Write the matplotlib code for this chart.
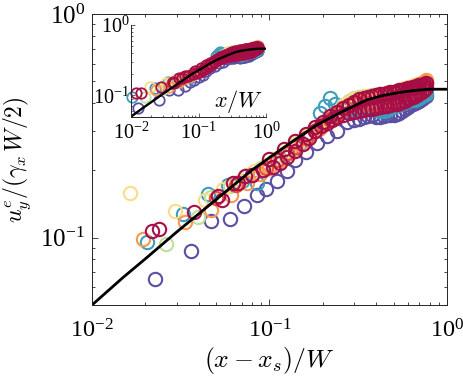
import numpy as np
import matplotlib
matplotlib.use('Agg')
import matplotlib.pyplot as plt
from matplotlib.ticker import LogLocator, NullFormatter

plt.rcParams['font.family'] = ['Liberation Serif', 'DejaVu Serif']
plt.rcParams['mathtext.fontset'] = 'cm'

# -------------------------------------------------------------------------
# data, x = (x - x_s)/W , y = u_y^e / (gamma_x W/2)
# every run: first part (x < 0.3) + tail at the common x positions tail_x

tail_x = [0.30, 0.32, 0.34, 0.36, 0.38, 0.40, 0.42, 0.44, 0.46, 0.48, 0.50, 0.52,
          0.54, 0.56, 0.58, 0.60, 0.62, 0.64, 0.66, 0.68, 0.70, 0.72, 0.74, 0.76]

purple_x = [0.0226, 0.0361, 0.047, 0.060, 0.072, 0.085, 0.096, 0.110, 0.125, 0.139, 0.160, 0.185,
            0.21, 0.24, 0.273]
purple_y = [0.0656, 0.0874, 0.119, 0.121, 0.138, 0.155, 0.165, 0.180, 0.198, 0.222, 0.242, 0.266,
            0.285, 0.300, 0.330,
            0.335, 0.340, 0.345, 0.350, 0.352, 0.348, 0.345, 0.350, 0.352, 0.355, 0.352, 0.358,
            0.362, 0.368, 0.375, 0.382, 0.390, 0.395, 0.400, 0.405, 0.410, 0.418, 0.425, 0.430]

teal_x = [0.0204, 0.0327, 0.045, 0.0585, 0.070, 0.0847, 0.100, 0.115, 0.130, 0.150, 0.170, 0.192,
          0.205, 0.219, 0.235, 0.25, 0.275]
teal_y = [0.096, 0.127, 0.156, 0.172, 0.180, 0.175, 0.205, 0.225, 0.245, 0.265, 0.290, 0.361,
          0.387, 0.420, 0.395, 0.370, 0.372,
          0.375, 0.380, 0.385, 0.382, 0.378, 0.372, 0.368, 0.370, 0.374, 0.380, 0.386, 0.392,
          0.398, 0.402, 0.405, 0.410, 0.415, 0.418, 0.412, 0.415, 0.420, 0.428, 0.435, 0.440]

green_x = [0.0261, 0.0397, 0.047, 0.060, 0.075, 0.090, 0.105, 0.120, 0.140, 0.160, 0.180, 0.200,
           0.23, 0.26, 0.28]
green_y = [0.094, 0.124, 0.152, 0.170, 0.190, 0.205, 0.220, 0.240, 0.262, 0.285, 0.305, 0.325,
           0.355, 0.390, 0.410,
           0.420, 0.425, 0.428, 0.430, 0.433, 0.435, 0.437, 0.440, 0.442, 0.444, 0.446, 0.448,
           0.452, 0.455, 0.458, 0.460, 0.463, 0.465, 0.468, 0.470, 0.474, 0.478, 0.482, 0.485]

yellow_x = [0.0164, 0.0293, 0.0432, 0.055, 0.068, 0.082, 0.095, 0.110, 0.125, 0.145, 0.165, 0.185,
            0.21, 0.24, 0.27]
yellow_y = [0.159, 0.132, 0.148, 0.165, 0.180, 0.198, 0.212, 0.228, 0.245, 0.268, 0.290, 0.310,
            0.335, 0.365, 0.395,
            0.415, 0.420, 0.425, 0.430, 0.432, 0.435, 0.438, 0.440, 0.443, 0.446, 0.450, 0.454,
            0.458, 0.462, 0.466, 0.470, 0.474, 0.477, 0.480, 0.484, 0.488, 0.492, 0.496, 0.500]

orange_x = [0.0194, 0.0334, 0.047, 0.061, 0.075, 0.088, 0.100, 0.115, 0.130, 0.150, 0.170, 0.190,
            0.21, 0.235, 0.26, 0.28]
orange_y = [0.099, 0.118, 0.133, 0.155, 0.175, 0.192, 0.205, 0.222, 0.240, 0.262, 0.285, 0.305,
            0.325, 0.350, 0.375, 0.392,
            0.400, 0.408, 0.412, 0.416, 0.419, 0.421, 0.423, 0.426, 0.430, 0.434, 0.438, 0.443,
            0.448, 0.453, 0.458, 0.463, 0.468, 0.473, 0.478, 0.483, 0.488, 0.493, 0.498, 0.505]

red_x = [0.050, 0.065, 0.080, 0.095, 0.110, 0.125, 0.140, 0.160, 0.180, 0.200, 0.220, 0.245, 0.27]
red_y = [0.150, 0.172, 0.190, 0.205, 0.222, 0.238, 0.255, 0.278, 0.300, 0.320, 0.340, 0.360, 0.380,
         0.395, 0.400, 0.402, 0.400, 0.398, 0.396, 0.398, 0.402, 0.406, 0.412, 0.418, 0.425,
         0.432, 0.438, 0.443, 0.448, 0.452, 0.457, 0.462, 0.467, 0.472, 0.478, 0.484, 0.490]

crimson_x = [0.0217, 0.0239, 0.0377, 0.0515, 0.054, 0.0622, 0.0667, 0.073, 0.0794, 0.092, 0.105,
             0.114, 0.125, 0.139, 0.154, 0.168, 0.180, 0.195, 0.21, 0.225, 0.24, 0.26, 0.28]
crimson_y = [0.107, 0.109, 0.130, 0.153, 0.148, 0.175, 0.175, 0.188, 0.191, 0.201, 0.208,
             0.215, 0.230, 0.243, 0.262, 0.280, 0.300, 0.315, 0.325, 0.335, 0.345, 0.355, 0.360,
             0.365, 0.370, 0.372, 0.375, 0.378, 0.380, 0.383, 0.386, 0.389, 0.392, 0.395, 0.398,
             0.402, 0.406, 0.410, 0.415, 0.420, 0.425, 0.430, 0.436, 0.442, 0.450, 0.458, 0.466]

crimson2_x = [0.10, 0.12, 0.14, 0.16, 0.18, 0.20, 0.22, 0.24, 0.26, 0.28]
crimson2_y = [0.225, 0.248, 0.270, 0.292, 0.312, 0.330, 0.350, 0.365, 0.380, 0.392,
              0.405, 0.415, 0.420, 0.425, 0.430, 0.434, 0.438, 0.441, 0.444, 0.447, 0.450, 0.453,
              0.456, 0.459, 0.462, 0.465, 0.468, 0.471, 0.474, 0.477, 0.480, 0.484, 0.488, 0.492]

series = [
    (purple_x, purple_y, '#5B4FA3'),
    (teal_x, teal_y, '#3A9EBD'),
    (green_x, green_y, '#BDE19A'),
    (yellow_x, yellow_y, '#FDDC86'),
    (orange_x, orange_y, '#FA9852'),
    (red_x, red_y, '#E2503F'),
    (crimson_x, crimson_y, '#A80F48'),
    (crimson2_x, crimson2_y, '#A50D45'),
]

# model curve (black line)
curve_x = [0.01, 0.015, 0.02, 0.03, 0.05, 0.08, 0.1, 0.14, 0.185, 0.26, 0.354, 0.44,
           0.543, 0.65, 0.8, 1.0]
curve_y = [0.05, 0.0665, 0.0805, 0.106, 0.148, 0.201, 0.228, 0.275, 0.319, 0.368, 0.413, 0.433,
           0.446, 0.455, 0.461, 0.461]

xs_over_W = -0.01   # inset uses x/W = (x - x_s)/W + x_s/W

tick_lbl = {0.01: r'$\mathregular{10^{-2}}$', 0.1: r'$\mathregular{10^{-1}}$', 1.0: r'$\mathregular{10^{0}}$'}
axcol = '#262626'
# -------------------------------------------------------------------------

fig = plt.figure(figsize=(4.63, 3.85), dpi=100)
ax = fig.add_axes([0.1987, 0.2078, 0.7667, 0.7558])

for x, y, c in series:
    xx = list(x) + tail_x[:len(y) - len(x)]
    ax.plot(xx, y, 'o', mfc='none', mec=c, ms=9.6, mew=1.5)
ax.plot(curve_x, curve_y, '-', color='k', lw=2.0)

ax.set_xscale('log')
ax.set_yscale('log')
ax.set_xlim(0.01, 1)
ax.set_ylim(0.05, 1)
ax.set_xticks([0.01, 0.1, 1.0], [tick_lbl[v] for v in [0.01, 0.1, 1.0]])
ax.set_yticks([0.1, 1.0], [tick_lbl[v] for v in [0.1, 1.0]])
ax.xaxis.set_minor_locator(LogLocator(base=10, subs=np.arange(2, 10)))
ax.yaxis.set_minor_locator(LogLocator(base=10, subs=np.arange(2, 10)))
ax.xaxis.set_minor_formatter(NullFormatter())
ax.yaxis.set_minor_formatter(NullFormatter())
ax.tick_params(which='both', direction='in', top=True, right=True, color=axcol, width=0.6)
ax.tick_params(which='major', length=4)
ax.tick_params(which='minor', length=2.2)
ax.tick_params(axis='x', which='major', labelsize=17.5, pad=10)
ax.tick_params(axis='y', which='major', labelsize=18, pad=5)
for s in ax.spines.values():
    s.set_color(axcol)
    s.set_linewidth(0.7)
ax.set_xlabel(r'$(x-x_s)/W$', fontsize=18.5, labelpad=2)
ax.set_ylabel(r'$u_y^e/(\gamma_x\,W/2)$', fontsize=17, labelpad=5)

# inset
axi = fig.add_axes([0.283, 0.697, 0.2916, 0.238])
for x, y, c in series:
    xi = np.array(list(x) + tail_x[:len(y) - len(x)]) + xs_over_W
    keep = xi >= 0.01
    axi.plot(xi[keep], np.array(y)[keep], 'o', mfc='none', mec=c, ms=7.5, mew=1.3, clip_on=False)
axi.plot(curve_x, curve_y, '-', color='k', lw=1.7)
axi.set_xscale('log')
axi.set_yscale('log')
axi.set_xlim(0.01, 1)
axi.set_ylim(0.05, 1)
axi.set_xticks([0.01, 0.1, 1.0], [tick_lbl[v] for v in [0.01, 0.1, 1.0]])
axi.set_yticks([0.1, 1.0], [tick_lbl[v] for v in [0.1, 1.0]])
axi.xaxis.set_minor_locator(LogLocator(base=10, subs=np.arange(2, 10)))
axi.yaxis.set_minor_locator(LogLocator(base=10, subs=np.arange(2, 10)))
axi.xaxis.set_minor_formatter(NullFormatter())
axi.yaxis.set_minor_formatter(NullFormatter())
axi.spines['top'].set_visible(False)
axi.spines['right'].set_visible(False)
for s in ['left', 'bottom']:
    axi.spines[s].set_color(axcol)
    axi.spines[s].set_linewidth(0.7)
axi.patch.set_alpha(0)
axi.tick_params(which='both', direction='in', color=axcol, width=0.5)
axi.tick_params(which='major', length=3)
axi.tick_params(which='minor', length=1.6)
axi.tick_params(axis='x', which='major', labelsize=14.5, pad=4)
axi.tick_params(axis='y', which='major', labelsize=14.5, pad=1)
axi.text(0.98, 0.1, r'$x/W$', transform=axi.transAxes, ha='right', va='baseline', fontsize=16)

fig.savefig('out.png', dpi=100)
